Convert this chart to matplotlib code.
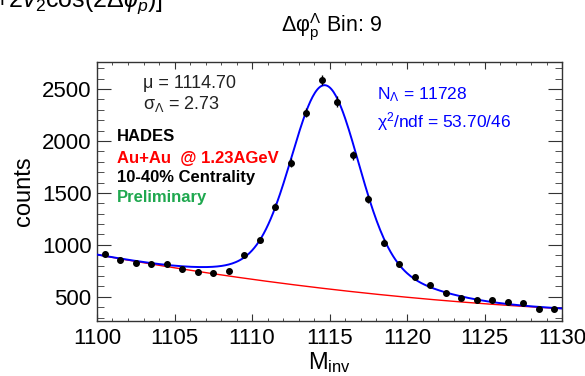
import numpy as np
import matplotlib
matplotlib.use("Agg")
import matplotlib.pyplot as plt
from matplotlib.ticker import MultipleLocator

plt.rcParams['font.family'] = ['Liberation Sans', 'DejaVu Sans']
plt.rcParams['mathtext.fontset'] = 'custom'
plt.rcParams['mathtext.rm'] = 'Liberation Sans'
plt.rcParams['mathtext.it'] = 'Liberation Sans:italic'
plt.rcParams['mathtext.bf'] = 'Liberation Sans:bold'

# invariant mass bins (bin centres) and counts
m_inv = [1100.5, 1101.5, 1102.5, 1103.5, 1104.5, 1105.5, 1106.5, 1107.5,
         1108.5, 1109.5, 1110.5, 1111.5, 1112.5, 1113.5, 1114.5, 1115.5,
         1116.5, 1117.5, 1118.5, 1119.5, 1120.5, 1121.5, 1122.5, 1123.5,
         1124.5, 1125.5, 1126.5, 1127.5, 1128.5, 1129.5]
counts = [913, 858, 826, 816, 813, 765, 736, 729,
          745, 906, 1048, 1368, 1790, 2274, 2589, 2380,
          1864, 1442, 1020, 813, 693, 615, 534, 489,
          466, 465, 455, 437, 386, 386]

# fit results: pol2 background + double gaussian signal
bkg_par = [906.0, -26.9, 0.32]          # a + b*t + c*t^2, t = m - 1100
sig_amp = [1680.0, 280.0]
sig_mu = [1114.7, 1115.3]
sig_width = [2.1, 4.5]

x_range = [1100, 1130]
y_range = [270, 2760]


def background(m):
    t = m - 1100.0
    return bkg_par[0] + bkg_par[1] * t + bkg_par[2] * t ** 2


def total(m):
    s = sum(a * np.exp(-0.5 * ((m - mu) / w) ** 2)
            for a, mu, w in zip(sig_amp, sig_mu, sig_width))
    return background(m) + s


fig = plt.figure(figsize=(5.85, 3.76), dpi=100)
ax = fig.add_axes([0.1658, 0.147, 0.795, 0.688])

mm = np.linspace(x_range[0], x_range[1], 400)
ax.plot(mm, background(mm), color='#ff0000', lw=1.0, zorder=2)
ax.plot(mm, total(mm), color='#0000ff', lw=1.4, zorder=3)
ax.errorbar(m_inv, counts, yerr=np.sqrt(counts), fmt='o', color='black',
            ms=4, elinewidth=1.0, capsize=0, zorder=4)

ax.set_xlim(x_range)
ax.set_ylim(y_range)
ax.xaxis.set_major_locator(MultipleLocator(5))
ax.xaxis.set_minor_locator(MultipleLocator(1))
ax.yaxis.set_major_locator(MultipleLocator(500))
ax.yaxis.set_minor_locator(MultipleLocator(100))
ax.tick_params(axis='both', which='both', direction='in', top=True, right=True,
               colors='#333333', labelcolor='black', labelsize=16)
ax.tick_params(axis='x', which='major', length=5, pad=5)
ax.tick_params(axis='x', which='minor', length=2)
ax.tick_params(axis='y', which='major', length=10, pad=4)
ax.tick_params(axis='y', which='minor', length=5)
for sp in ax.spines.values():
    sp.set_color('#333333')
    sp.set_linewidth(1.0)

ax.set_xlabel(r'M$_{\mathrm{inv}}$', fontsize=17, labelpad=1)
ax.set_ylabel('counts', fontsize=17, labelpad=5)
fig.text(0.566, 1 - 27 / 376, r'Δφ$^{\mathrm{Λ}}_{\mathrm{p}}$ Bin: 9', fontsize=15.5,
         ha='center', va='center')

# fit info
fig.text(143 / 585, 1 - 83 / 376, 'μ = 1114.70', fontsize=13, color='#222222',
         va='center')
fig.text(143 / 585, 1 - 104 / 376, r'σ$_{\mathrm{Λ}}$ = 2.73', fontsize=13,
         color='#222222', va='center')
fig.text(377 / 585, 1 - 95 / 376, r'N$_{\mathrm{Λ}}$ = 11728', fontsize=12.5,
         color='#0000ff', va='center')
fig.text(377 / 585, 1 - 122 / 376, r'χ$^{2}$/ndf = 53.70/46', fontsize=12.5,
         color='#0000ff', va='center')

# experiment labels
fig.text(117 / 585, 1 - 137 / 376, 'HADES', fontsize=12, fontweight='bold',
         color='black', va='center')
fig.text(117 / 585, 1 - 158 / 376, 'Au+Au  @ 1.23AGeV', fontsize=12,
         fontweight='bold', color='#ff0000', va='center')
fig.text(117 / 585, 1 - 178 / 376, '10-40% Centrality', fontsize=12,
         fontweight='bold', color='black', va='center')
fig.text(117 / 585, 1 - 198 / 376, 'Preliminary', fontsize=12,
         fontweight='bold', color='#1fa84f', va='center')

# clipped text from the page above the figure
fig.text(163 / 585, 1 - 7 / 376, r'$+2v_2\cos(2\Delta\phi_p)]$', fontsize=18,
         ha='right', va='baseline')

fig.savefig('out.png', dpi=100)
